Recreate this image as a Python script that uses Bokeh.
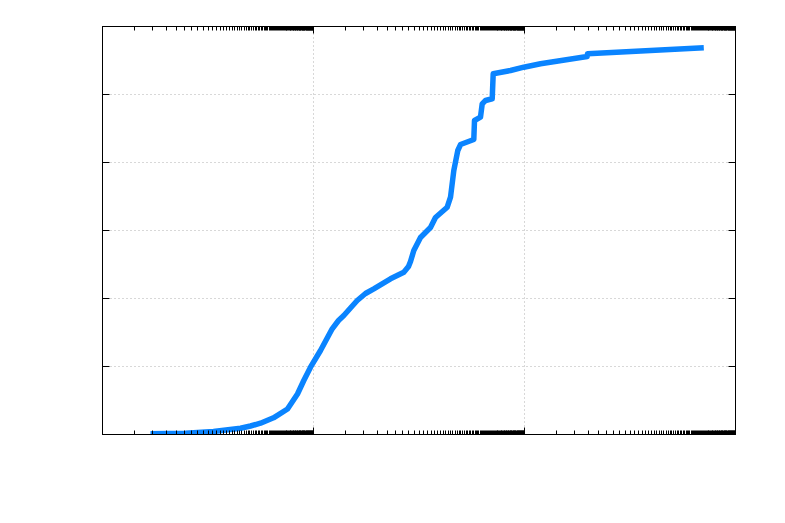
from bokeh.plotting import figure
from bokeh.models import FixedTicker, LogAxis, LinearAxis, CustomJSTickFormatter
from bokeh.embed import file_html
from bokeh.resources import INLINE

# Data (log-scaled x, linear y)
x_vals = [2.851, 6.12, 11.27, 20.33, 25.28, 31.45, 41.77, 56.7, 70.5, 80.9,
          93.7, 116.5, 150.4, 172.6, 193.8, 224.2, 259.6, 311.1, 372.9, 537,
          717.8, 795.4, 830.8, 892.8, 1033, 1285, 1433, 1851, 1989, 2138, 2332,
          2474, 3307, 3358, 3827, 3973, 4269, 4941, 5050, 7368, 9849, 14183,
          39300, 39560, 500500]
y_vals = [0.24, 0.35, 0.88, 1.85, 2.5, 3.32, 4.91, 7.50, 11.91, 15.88,
          19.79, 24.71, 31.09, 33.53, 35.0, 37.21, 39.41, 41.47, 42.85, 45.79,
          47.74, 49.41, 50.88, 54.12, 57.94, 60.88, 63.82, 66.85, 69.79, 77.65,
          83.53, 85.29, 86.76, 92.35, 93.32, 97.26, 98.24, 98.74, 106.09,
          107.06, 108.03, 109.03, 111.18, 111.97, 113.74]

x_major = [1, 100, 1e4, 1e6]
x_minor = [k * 100 ** n for n in range(3) for k in range(2, 100)]
y_major = [0, 20, 40, 60, 80, 100, 120]

p = figure(width=768, height=508, x_axis_type="log", x_range=(1, 1e6),
           y_range=(0, 120), output_backend="svg", toolbar_location=None,
           min_border_left=102, min_border_right=33, min_border_top=26,
           min_border_bottom=74)
p.outline_line_color = "black"
p.outline_line_width = 1
p.background_fill_color = "white"
p.border_fill_color = "white"

blank = CustomJSTickFormatter(code="return ''")


def style_axis(ax, minor=True):
    ax.axis_line_color = "black"
    ax.major_tick_in = 7
    ax.major_tick_out = 0
    ax.major_tick_line_color = "black"
    ax.minor_tick_in = 4 if minor else 0
    ax.minor_tick_out = 0
    ax.minor_tick_line_color = "black"
    ax.formatter = blank
    ax.major_label_standoff = 0
    ax.major_label_text_font_size = "1px"


p.xaxis.ticker = FixedTicker(ticks=x_major, minor_ticks=x_minor)
p.yaxis.ticker = FixedTicker(ticks=y_major, minor_ticks=[])
style_axis(p.xaxis[0])
style_axis(p.yaxis[0], minor=False)

top = LogAxis(ticker=FixedTicker(ticks=x_major, minor_ticks=x_minor))
style_axis(top)
p.add_layout(top, "above")
right = LinearAxis(ticker=FixedTicker(ticks=y_major, minor_ticks=[]))
style_axis(right, minor=False)
p.add_layout(right, "right")

p.xgrid.ticker = FixedTicker(ticks=[100, 1e4])
p.ygrid.ticker = FixedTicker(ticks=[20, 40, 60, 80, 100])
for g in (p.xgrid[0], p.ygrid[0]):
    g.grid_line_color = "#b0b0b0"
    g.grid_line_dash = "1 3"
    g.grid_line_width = 1

p.line(x_vals, y_vals, line_color="#0a84ff", line_width=5.5,
       line_join="round", line_cap="butt")

open("out.html", "w").write(file_html(p, INLINE))
